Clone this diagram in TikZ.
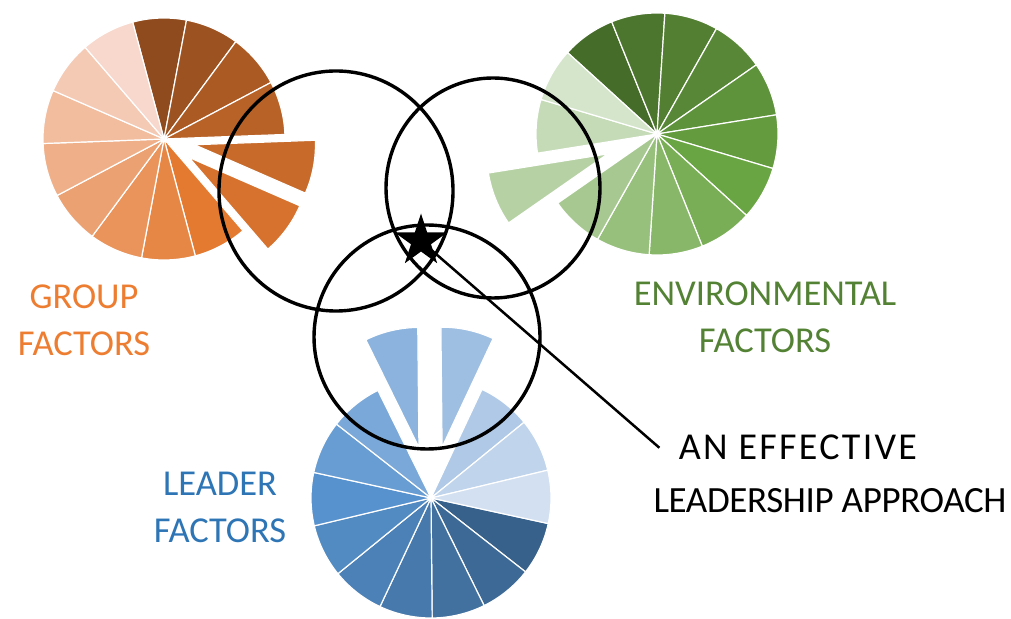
\documentclass[tikz,border=0pt]{standalone}
\usepackage{fontspec}
\setmainfont{Carlito}
\usepackage{tikz}
\usetikzlibrary{shapes.geometric,calc}

\definecolor{groupdark}{HTML}{8F4A1E}
\definecolor{groupmid}{HTML}{E47A30}
\definecolor{grouplight}{HTML}{F8D8CC}
\definecolor{grouptext}{HTML}{ED7D31}
\definecolor{envdark}{HTML}{466C2A}
\definecolor{envmid}{HTML}{6AA543}
\definecolor{envlight}{HTML}{D5E5CB}
\definecolor{envtext}{HTML}{548235}
\definecolor{leaddark}{HTML}{37618A}
\definecolor{leadmid}{HTML}{5792CE}
\definecolor{leadlight}{HTML}{D3E0F1}
\definecolor{leadtext}{HTML}{2E75B6}

% #1 centre, #2 first angle, #3 colour prefix, #4 radius, #5 push out of each slice
\newcommand{\factorpie}[5]{%
  \foreach \d [count=\i] in {#5} {
    \pgfmathsetmacro{\a}{#2-(\i-1)*360/14}
    \pgfmathsetmacro{\b}{\a-360/14}
    \ifnum\i<8
      \pgfmathtruncatemacro{\t}{(\i-1)*100/6}
      \colorlet{slice}{#3mid!\t!#3dark}
    \else
      \pgfmathtruncatemacro{\t}{(\i-7)*100/7}
      \colorlet{slice}{#3light!\t!#3mid}
    \fi
    \filldraw[fill=slice, draw=white, line width=1.2pt, line join=round]
      ($(#1)+({(\a+\b)/2}:\d)$) -- ++(\a:#4) arc[start angle=\a, end angle=\b, radius=#4] -- cycle;
  }}

\tikzset{
  ring/.style={line width=3.4pt},
  factor/.style={align=center, anchor=base, font=\fontsize{36.5}{47}\selectfont},
  approachtext/.style={anchor=base, font=\fontsize{37}{50}\selectfont}
}

\begin{document}
\begin{tikzpicture}[x=1pt,y=1pt]
	\useasboundingbox (0,0) rectangle (1011,618);
	\coordinate (group) at (164,479);
	\coordinate (env) at (657,484);
	\coordinate (lead) at (431,120);
	\factorpie{group}{105}{group}{121}{0,0,0,0,31,31,0,0,0,0,0,0,0,0}
	\factorpie{env}{137.7}{env}{121}{0,0,0,0,0,0,0,0,0,0,0,53,0,0}
	\factorpie{lead}{-12.3}{lead}{120}{0,0,0,0,0,0,0,0,0,52,52,0,0,0}
	% the three circles
	\draw[ring] (336,427) ellipse [x radius=117, y radius=120];
	\draw[ring] (493,430) ellipse [x radius=107, y radius=110];
	\draw[ring] (427,281) ellipse [x radius=113, y radius=112];
	\node[star, star points=5, star point ratio=2.618, fill=black, inner sep=0pt, minimum size=55pt] (star) at (421,377) {};
	\node[approachtext, font=\fontsize{38}{50}\selectfont] (approach) at (798,158) {\addfontfeature{LetterSpace=6}AN EFFECTIVE};
	\node[approachtext] (approach2) at (830,105) {\addfontfeature{LetterSpace=-1}LEADERSHIP APPROACH};
	\draw[line width=2.5pt] (star.center) -- ([xshift=-16pt]approach.west);
	\node[factor, text=grouptext] (grouplabel) at (84,262) {GROUP\\FACTORS};
	\node[factor, text=envtext] (envlabel) at (765,265) {ENVIRONMENTAL\\FACTORS};
	\node[factor, text=leadtext] (leadlabel) at (220,75) {LEADER\\FACTORS};
\end{tikzpicture}
\end{document}
